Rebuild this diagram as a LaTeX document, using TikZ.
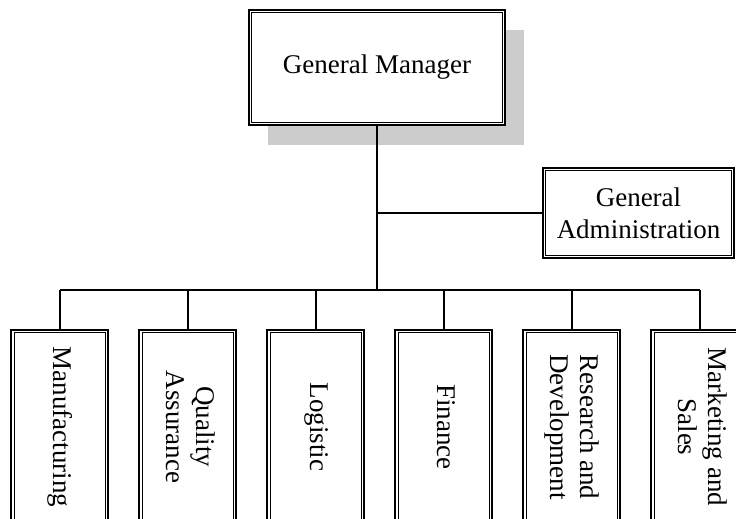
\documentclass[tikz,border=0pt]{standalone}
\usepackage{fontspec}
\setmainfont{Liberation Serif}
\usetikzlibrary{shadows}

\tikzset{
  cadre/.style={draw, line width=1pt, fill=white, inner sep=0pt, align=center,
    font=\fontsize{13.5}{16}\selectfont,
    path picture={\draw[line width=0.5pt]
      ([shift={(1.3pt,-1.3pt)}]path picture bounding box.north west) rectangle
      ([shift={(-1.3pt,1.3pt)}]path picture bounding box.south east);}},
  service/.style={cadre, minimum width=48.5pt, minimum height=97pt,
    font=\fontsize{13.5}{15}\selectfont},
}
\newcommand{\vtexte}[1]{\rotatebox{-90}{\begin{tabular}{@{}c@{}}#1\end{tabular}}}

\begin{document}
\begin{tikzpicture}[x=0.5pt,y=0.5pt]
\useasboundingbox (0,0) rectangle (736,519);
\clip (0,0) rectangle (736,519);

%direction
\node[cadre, minimum width=128pt, minimum height=57.5pt,
  drop shadow={shadow xshift=9.5pt, shadow yshift=-10pt, fill=black!20, opacity=1}]
  (gm) at (377,451.5) {General Manager};
\node[cadre, minimum width=95.5pt, minimum height=45pt] (ga) at (638.5,306) {General\\Administration};

%services
\node[service] (s1) at (60,92) {\vtexte{Manufacturing}};
\node[service] (s2) at (188,92) {\vtexte{Quality\\Assurance}};
\node[service] (s3) at (316,92) {\vtexte{Logistic}};
\node[service] (s4) at (444,92) {\vtexte{Finance}};
\node[service] (s5) at (572,92) {\vtexte{Research and\\Development}};
\node[service] (s6) at (700,92) {\vtexte{Marketing and\\Sales}};

%liaisons
\coordinate (bus) at (377,229);
\draw[line width=1pt] (gm.south) -- (bus);
\draw[line width=0.8pt] (gm.south |- ga.west) -- (ga.west);
\draw[line width=1pt] (s1.north |- bus) -- (s6.north |- bus);
\foreach \s in {s1,s2,s3,s4,s5,s6}
  \draw[line width=0.6pt] (\s.north) -- (\s.north |- bus);

\end{tikzpicture}
\end{document}
